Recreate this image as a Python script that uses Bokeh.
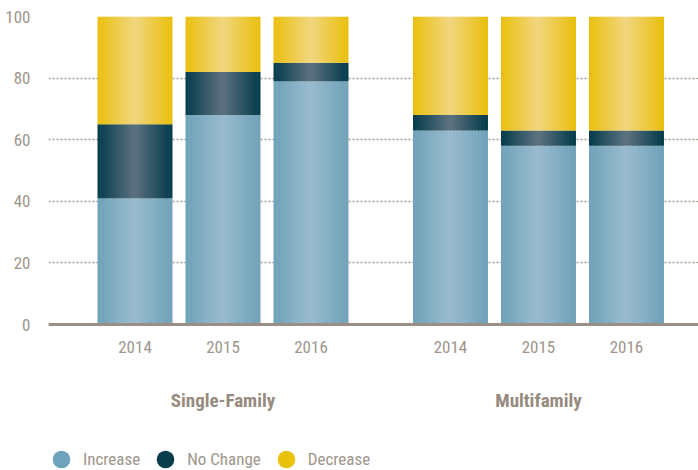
from bokeh.plotting import figure
from bokeh.models import Range1d, FixedTicker, ColumnDataSource, Legend, LegendItem, Span
from bokeh.core.properties import value
from bokeh.transform import dodge
from bokeh.embed import file_html
from bokeh.resources import INLINE

# ---------------- data ----------------
groups = ["Single-Family", "Multifamily"]
years = ["2014", "2015", "2016"]
increase = [41, 68, 79, 63, 58, 58]
no_change = [24, 14, 6, 5, 5, 5]
decrease = [35, 18, 15, 32, 37, 37]
y_ticks = [0, 20, 40, 60, 80, 100]
series_names = ["Increase", "No Change", "Decrease"]

# ---------------- style ----------------
FONT = "Roboto Condensed"
TEXT_COLOR = "#a0958b"
GRID_COLOR = "#a59a90"
BASE_COLOR = "#9b8e84"
EDGE = ["#6ea2b8", "#033b4b", "#e9bf0c"]
CENTER = ["#9abbcd", "#5e7280", "#f1d680"]
SOLID = ["#6fa3bb", "#083d4c", "#e9c20d"]
BAR_W = 0.852
GROUP_GAP = 0.585
STRIPS = 24

xs, year_lab, grp_of = [], [], []
for gi, g in enumerate(groups):
    for yi, yr in enumerate(years):
        xs.append(gi * (len(years) + GROUP_GAP) + yi)
        year_lab.append(yr)
        grp_of.append(gi)
grp_x = [sum(x for x, g in zip(xs, grp_of) if g == gi) / len(years) for gi in range(len(groups))]

bottoms = [[0] * len(xs),
           increase,
           [a + b for a, b in zip(increase, no_change)]]
tops = [increase,
        [a + b for a, b in zip(increase, no_change)],
        [a + b + c for a, b, c in zip(increase, no_change, decrease)]]

src = ColumnDataSource(dict(x=xs, year=year_lab,
                            b0=bottoms[0], t0=tops[0],
                            b1=bottoms[1], t1=tops[1],
                            b2=bottoms[2], t2=tops[2]))

W, H = 698, 470
FRAME_L = 48
TOP = 16
PX_PER_X = 88.0
PX_PER_Y = 3.08
frame_w = W - FRAME_L
frame_h = H - TOP
x0 = xs[0] - 86.5 / PX_PER_X
p = figure(width=W, height=H, output_backend="svg", toolbar_location=None,
           x_range=Range1d(x0, x0 + frame_w / PX_PER_X),
           y_range=Range1d(100 - frame_h / PX_PER_Y, 100),
           x_axis_location=None, y_axis_location="left",
           min_border_left=FRAME_L, min_border_right=0, min_border_top=TOP, min_border_bottom=0)
p.outline_line_color = None
p.background_fill_color = "white"
p.border_fill_color = "white"

p.xgrid.visible = False
p.ygrid.ticker = FixedTicker(ticks=y_ticks)
p.ygrid.grid_line_color = GRID_COLOR
p.ygrid.grid_line_dash = "2 2"
p.ygrid.grid_line_width = 1.5

yax = p.yaxis[0]
yax.ticker = FixedTicker(ticks=y_ticks)
yax.axis_line_color = None
yax.major_tick_line_color = None
yax.minor_tick_line_color = None
yax.major_tick_out = 0
yax.major_label_standoff = 18
yax.major_label_text_font = FONT
yax.major_label_text_font_size = "17px"
yax.major_label_text_color = TEXT_COLOR


def hex2rgb(h):
    h = h.lstrip("#")
    return [int(h[i:i + 2], 16) for i in (0, 2, 4)]


def mix(a, b, t):
    ra, rb = hex2rgb(a), hex2rgb(b)
    return "#%02x%02x%02x" % tuple(int(round(u + (v - u) * t)) for u, v in zip(ra, rb))


strip_w = BAR_W / STRIPS
for s in range(3):
    for j in range(STRIPS):
        off = -BAR_W / 2 + (j + 0.5) * strip_w
        t = 1 - abs(2 * (j + 0.5) / STRIPS - 1)
        w = strip_w + (0.012 if 0 < j < STRIPS - 1 else 0.0)
        p.vbar(x=dodge("x", off, range=p.x_range), bottom="b%d" % s, top="t%d" % s,
               width=w, source=src, fill_color=mix(EDGE[s], CENTER[s], t), line_color=None)

p.add_layout(Span(location=0, dimension="width", line_color=BASE_COLOR, line_width=3))

p.text(x="x", y=0, text="year", source=src, y_offset=22,
       text_font=value(FONT), text_font_size="17px", text_color=TEXT_COLOR,
       text_align="center", text_baseline="middle")

gsrc = ColumnDataSource(dict(x=grp_x, name=groups))
p.text(x="x", y=0, text="name", source=gsrc, y_offset=76,
       text_font=value(FONT), text_font_size="19px", text_font_style="bold",
       text_color="#978b80", text_align="center", text_baseline="middle")

nan = float("nan")
items = []
for s, name in enumerate(series_names):
    r = p.scatter(x=[nan], y=[nan], marker="circle", size=19, fill_color=SOLID[s], line_color=None)
    items.append(LegendItem(label=name, renderers=[r]))

legend = Legend(items=items, orientation="horizontal", location=(-9, -13),
                glyph_width=44, glyph_height=48, label_standoff=0, spacing=3,
                padding=0, margin=0, border_line_color=None, background_fill_alpha=0,
                label_text_font=FONT, label_text_font_size="17px", label_text_color=TEXT_COLOR)
p.add_layout(legend)

open("out.html", "w").write(file_html(p, INLINE))
